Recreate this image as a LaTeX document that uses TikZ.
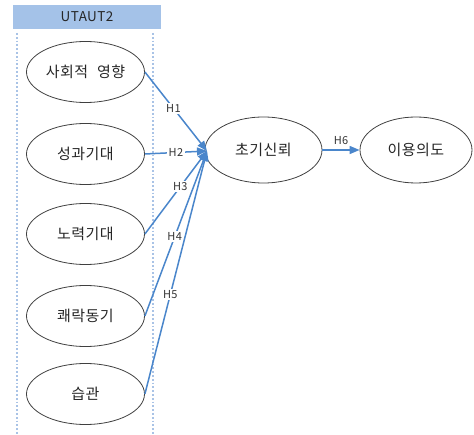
\documentclass[tikz,border=0pt]{standalone}
\usepackage{fontspec}
\setmainfont{Noto Sans CJK KR}[LetterSpace=3]
\usetikzlibrary{arrows.meta,shapes.geometric}
\definecolor{hdrblue}{HTML}{A4C2E8}
\definecolor{dotblue}{HTML}{A9C3E6}
\definecolor{linkblue}{HTML}{4A86CB}
\definecolor{edgegray}{HTML}{404040}
\tikzset{
  construct/.style={draw=edgegray, line width=0.8pt, ellipse, minimum width=118pt, minimum height=61pt, inner sep=0pt, font=\fontsize{15}{17}\selectfont, text=black!85},
  link/.style={draw=linkblue, line width=1.5pt, -{Triangle[length=10pt,width=8pt]}},
  hlabel/.style={fill=white, inner sep=1.5pt, font=\fontsize{11}{12}\selectfont, text=black!80},
  guide/.style={draw=dotblue, line width=1.8pt, dotted}
}
\begin{document}
\begin{tikzpicture}[x=1pt,y=-1pt]
\useasboundingbox (0,0) rectangle (474,435);
\node[fill=hdrblue, minimum width=148pt, minimum height=24pt, inner sep=0pt, font=\fontsize{13.5}{15}\selectfont, text=black!85] (hdr) at (87,17) {UTAUT2};
\coordinate (g1a) at (17,33); \coordinate (g1b) at (17,435);
\coordinate (g2a) at (153,33); \coordinate (g2b) at (153,435);
\draw[guide] (g1a) -- (g1b);
\draw[guide] (g2a) -- (g2b);
\node[construct] (s1) at (85.5,72) {사회적\hspace{0.6em}영향};
\node[construct] (s2) at (85.5,154) {성과기대};
\node[construct] (s3) at (85.5,234) {노력기대};
\node[construct] (s4) at (85.5,316) {쾌락동기};
\node[construct] (s5) at (85.5,394) {습관};
\node[construct, minimum width=117pt, minimum height=66pt] (trust) at (263.5,150) {초기신뢰};
\node[construct, minimum width=112pt, minimum height=66pt] (intent) at (416,150) {이용의도};
\coordinate (tin) at (207,151);
\draw[link] (s1.east) -- node[hlabel, pos=0.46] {H1} (tin);
\draw[link] (s2.east) -- node[hlabel, pos=0.5] {H2} (tin);
\draw[link] (s3.east) -- node[hlabel, pos=0.57] {H3} (tin);
\draw[link] (s4.east) -- node[hlabel, pos=0.48] {H4} (tin);
\draw[link] (s5.east) -- node[hlabel, pos=0.41] {H5} (tin);
\draw[link] (trust.east) -- node[hlabel, above=3pt, fill=none] {H6} (intent.west);
\end{tikzpicture}
\end{document}
